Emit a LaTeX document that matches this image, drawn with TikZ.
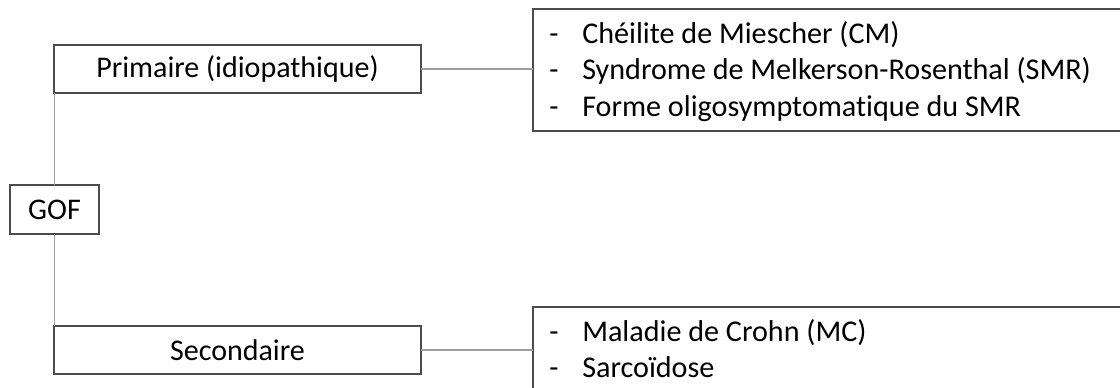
\documentclass[tikz,border=0pt]{standalone}
\usepackage{fontspec}
\setmainfont[Ligatures=NoCommon]{Carlito}
\usetikzlibrary{positioning}

\tikzset{
  box/.style={draw=black!70, line width=1.1pt, inner sep=0pt, outer sep=0pt, font=\fontsize{22.5}{27}\selectfont},
  listbox/.style={box, anchor=north west, minimum width=455pt},
  link/.style={draw=black!38, line width=0.8pt},
  item/.style={anchor=base west, inner sep=0pt, font=\fontsize{22.6}{27}\selectfont}
}

\begin{document}
\begin{tikzpicture}[x=0.75pt, y=-0.75pt]
  \useasboundingbox (0,0) rectangle (1120,387);
  \clip (0,0) rectangle (1120,387);
  \node[box, minimum width=66.75pt, minimum height=36.75pt] (gof) at (54.5,209.5) {GOF};
  \node[box, minimum width=275.25pt, minimum height=36pt] (prim) at (237.5,69) {Primaire (idiopathique)};
  \node[box, minimum width=275.25pt, minimum height=36pt] (sec) at (237.5,350) {Secondaire};
  \node[listbox, minimum height=91.5pt] (primlist) at (533,9) {};
  \node[listbox, minimum height=64.5pt] (seclist) at (533,307) {};
  \foreach \txt [count=\i] in {{Chéilite de Miescher (CM)}, {Syndrome de Melkerson-Rosenthal (SMR)}, {Forme oligosymptomatique du SMR}} {
    \node[item] at (549,{6.5+36.5*\i}) {-};
    \node[item] at (582,{6.5+36.5*\i}) {\txt};
  }
  \foreach \txt [count=\i] in {{Maladie de Crohn (MC)}, {Sarcoïdose}} {
    \node[item] at (549,{304.5+36.5*\i}) {-};
    \node[item] at (582,{304.5+36.5*\i}) {\txt};
  }
  \draw[link] (gof.north) -- (gof.north |- prim.south);
  \draw[link] (gof.south) -- (gof.south |- sec.north);
  \draw[link] (prim.east) -- (primlist.west |- prim.east);
  \draw[link] (sec.east) -- (seclist.west |- sec.east);
\end{tikzpicture}
\end{document}
